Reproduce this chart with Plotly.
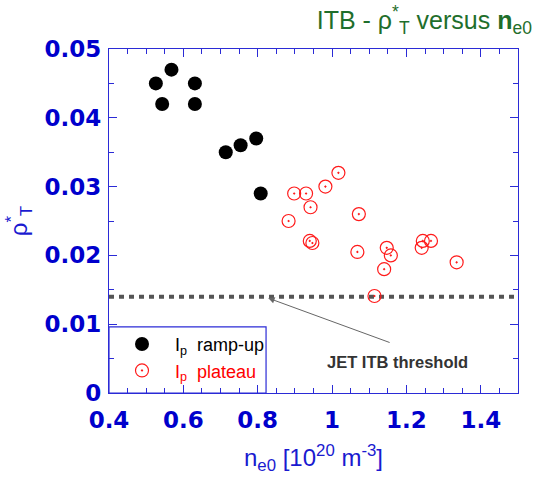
import plotly.graph_objects as go

# Ip ramp-up (black filled)
ramp_x = [0.526, 0.568, 0.631, 0.543, 0.631, 0.714, 0.754, 0.796, 0.808]
ramp_y = [0.045, 0.047, 0.045, 0.042, 0.042, 0.035, 0.036, 0.037, 0.029]

# Ip plateau (red open)
plat_x = [0.883, 0.898, 0.930, 0.942, 0.982, 1.017, 1.072, 0.940, 0.947,
          1.068, 1.147, 1.158, 1.140, 1.241, 1.244, 1.266, 1.335, 1.114]
plat_y = [0.025, 0.029, 0.029, 0.027, 0.030, 0.032, 0.026, 0.0221, 0.0218,
          0.0205, 0.0211, 0.0200, 0.0180, 0.0211, 0.0221, 0.0221, 0.0190, 0.0141]

threshold_x = [0.4, 1.5]
threshold_y = [0.014, 0.014]

x_range = [0.4, 1.5]
y_range = [0, 0.05]

BLUE = "#0000cc"
LINE_BLUE = "#2b2bd6"
GREEN = "#1f6e2b"

fig = go.Figure()

fig.add_trace(go.Scatter(
    x=threshold_x, y=threshold_y, mode="lines",
    line=dict(color="#555555", width=4, dash="5px,5px"),
    showlegend=False, hoverinfo="skip"))

fig.add_trace(go.Scatter(
    x=ramp_x, y=ramp_y, mode="markers",
    name="I<sub>p</sub>  ramp-up",
    marker=dict(symbol="circle", size=14, color="black")))

fig.add_trace(go.Scatter(
    x=plat_x, y=plat_y, mode="markers",
    name='<span style="color:#ff0000">I<sub>p</sub>  plateau</span>',
    marker=dict(symbol="circle-open-dot", size=13, color="#ff1a1a",
                line=dict(width=1.2, color="#ff1a1a"))))

axis_common = dict(
    showline=True, linecolor=LINE_BLUE, linewidth=1.2, mirror="ticks",
    ticks="inside", tickcolor=LINE_BLUE, tickwidth=1.2, ticklen=8,
    showgrid=False, zeroline=False, automargin=False,
    tickfont=dict(family="DejaVu Sans", size=23, color=BLUE, weight="bold"),
)

fig.update_xaxes(
    range=x_range, dtick=0.2, tick0=0.4,
    minor=dict(dtick=0.05, ticks="inside", ticklen=5, tickcolor=LINE_BLUE, tickwidth=1.2),
    ticklabelstandoff=6,
    title=dict(text="n<sub>e0</sub> [10<sup>20</sup> m<sup>-3</sup>]",
               font=dict(family="Liberation Sans", size=24, color="#1a1ad0"),
               standoff=17),
    **axis_common)

fig.update_yaxes(
    range=y_range, dtick=0.01, tick0=0,
    minor=dict(dtick=0.005, ticks="inside", ticklen=5, tickcolor=LINE_BLUE, tickwidth=1.2),
    ticklabelstandoff=2,
    title=dict(text="ρ<sup>*</sup><sub>T</sub>",
               font=dict(family="Liberation Sans", size=24, color="#1a1ad0"),
               standoff=10),
    **axis_common)

# legend box
fig.add_shape(type="rect", xref="paper", yref="paper",
              x0=0, x1=0.384, y0=0, y1=0.192,
              line=dict(color=LINE_BLUE, width=1.2), layer="above")

# threshold arrow + label
fig.add_annotation(x=0.828, y=0.0138, ax=123, ay=45, text="",
                   showarrow=True, arrowhead=2, arrowsize=1.3,
                   arrowwidth=1, arrowcolor="#666666")
fig.add_annotation(x=1.177, y=0.0045, text="<b>JET ITB threshold</b>",
                   showarrow=False,
                   font=dict(family="Liberation Sans", size=16.5, color="#333333"))

fig.update_layout(
    width=540, height=477,
    margin=dict(l=109, r=22, t=49, b=84, autoexpand=False),
    paper_bgcolor="white", plot_bgcolor="white",
    font=dict(family="Liberation Sans"),
    title=dict(text="ITB - ρ<sup>*</sup><sub>T</sub> versus <b>n</b><sub>e0</sub>",
               font=dict(family="Liberation Sans", size=25, color=GREEN),
               x=0.985, xanchor="right", xref="container",
               y=0.958, yanchor="middle", yref="container"),
    legend=dict(x=0.0, y=0.012, xanchor="left", yanchor="bottom",
                bgcolor="rgba(0,0,0,0)", borderwidth=0,
                font=dict(family="Liberation Sans", size=18, color="black"),
                itemwidth=56),
    showlegend=True,
)

fig.write_html("out.html",
               config={"displayModeBar": False},
               post_script="document.body.style.margin='0';document.body.style.padding='0';")
